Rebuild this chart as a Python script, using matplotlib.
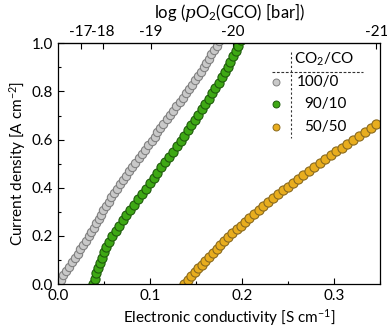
import matplotlib
matplotlib.use("Agg")
import matplotlib.pyplot as plt
from matplotlib.ticker import MultipleLocator

plt.rcParams['font.family'] = ['Lato', 'DejaVu Sans']
plt.rcParams['mathtext.fontset'] = 'custom'
plt.rcParams['mathtext.rm'] = 'Lato'
plt.rcParams['mathtext.it'] = 'DejaVu Serif:italic'

# ---- data ----
J_gray = [0.0, 0.018, 0.036, 0.054, 0.072, 0.090, 0.108, 0.126, 0.144, 0.162,
          0.180, 0.198, 0.216, 0.234, 0.252, 0.270, 0.288, 0.306, 0.324, 0.342,
          0.360, 0.378, 0.396, 0.414, 0.432, 0.450, 0.468, 0.486, 0.504, 0.522,
          0.540, 0.558, 0.576, 0.594, 0.612, 0.630, 0.648, 0.666, 0.684, 0.702,
          0.720, 0.738, 0.756, 0.774, 0.792, 0.810, 0.828, 0.846, 0.864, 0.882,
          0.900, 0.918, 0.936, 0.954, 0.972, 0.990, 1.008]
s_gray = [0.0, 0.0028, 0.0056, 0.0090, 0.0123, 0.0155, 0.0185, 0.0214, 0.0243, 0.0273,
          0.0302, 0.0332, 0.0361, 0.0389, 0.0418, 0.0442, 0.0466, 0.0490, 0.0519, 0.0549,
          0.0579, 0.0610, 0.0640, 0.0672, 0.0705, 0.0739, 0.0772, 0.0805, 0.0839, 0.0875,
          0.0911, 0.0946, 0.0982, 0.1018, 0.1049, 0.1080, 0.1111, 0.1145, 0.1180, 0.1216,
          0.1251, 0.1287, 0.1322, 0.1358, 0.1392, 0.1425, 0.1458, 0.1492, 0.1525, 0.1556,
          0.1584, 0.1612, 0.1640, 0.1668, 0.1696, 0.1724, 0.1752]

J_green = [0.0, 0.022, 0.044, 0.066, 0.088, 0.110, 0.132, 0.154, 0.176, 0.198,
           0.220, 0.242, 0.264, 0.286, 0.308, 0.330, 0.352, 0.374, 0.396, 0.418,
           0.440, 0.462, 0.484, 0.506, 0.528, 0.550, 0.572, 0.594, 0.616, 0.638,
           0.660, 0.682, 0.704, 0.726, 0.748, 0.770, 0.792, 0.814, 0.836, 0.858,
           0.880, 0.902, 0.924, 0.946, 0.968, 0.990, 1.012]
s_green = [0.0380, 0.0398, 0.0415, 0.0433, 0.0454, 0.0477, 0.0500, 0.0527, 0.0557, 0.0590,
           0.0625, 0.0662, 0.0701, 0.0741, 0.0782, 0.0824, 0.0867, 0.0910, 0.0953, 0.0996,
           0.1038, 0.1080, 0.1122, 0.1164, 0.1205, 0.1245, 0.1290, 0.1332, 0.1373, 0.1412,
           0.1450, 0.1487, 0.1525, 0.1562, 0.1599, 0.1637, 0.1673, 0.1709, 0.1746, 0.1782,
           0.1816, 0.1845, 0.1874, 0.1903, 0.1931, 0.1958, 0.1985]

J_yellow = [0.0, 0.0162, 0.0324, 0.0486, 0.0648, 0.0810, 0.0972, 0.1134, 0.1296, 0.1458,
            0.1620, 0.1782, 0.1944, 0.2106, 0.2268, 0.2430, 0.2592, 0.2754, 0.2916, 0.3078,
            0.3240, 0.3402, 0.3564, 0.3726, 0.3888, 0.4050, 0.4212, 0.4374, 0.4536, 0.4698,
            0.4860, 0.5022, 0.5184, 0.5346, 0.5508, 0.5670, 0.5832, 0.5994, 0.6156, 0.6318,
            0.6480, 0.6642]
s_yellow = [0.1370, 0.1409, 0.1448, 0.1487, 0.1526, 0.1564, 0.1603, 0.1644, 0.1684, 0.1725,
            0.1766, 0.1808, 0.1850, 0.1895, 0.1940, 0.1985, 0.2033, 0.2081, 0.2130, 0.2180,
            0.2232, 0.2284, 0.2336, 0.2390, 0.2443, 0.2498, 0.2554, 0.2611, 0.2668, 0.2726,
            0.2785, 0.2843, 0.2903, 0.2963, 0.3023, 0.3085, 0.3146, 0.3208, 0.3271, 0.3334,
            0.3397, 0.3458]

legend_labels = ["100/0", "90/10", "50/50"]
legend_header = "CO$_2$/CO"
top_tick_labels = ["-17", "-18", "-19", "-20", "-21"]
top_tick_pos = [0.025, 0.049, 0.101, 0.190, 0.346]

face = ["#c9c9c9", "#3ea814", "#e8ad1e"]
edge = ["#808080", "#1f5c0c", "#8a6a1e"]

FS = 11

fig = plt.figure(figsize=(3.87, 3.34), dpi=100)
ax = fig.add_axes([0.1499, 0.1497, 0.8321, 0.7207])

series = [(s_gray, J_gray), (s_green, J_green), (s_yellow, J_yellow)]
ms = [6.0, 6.6, 6.6]
for (x, y), fc, ec, m in zip(series, face, edge, ms):
    ax.plot(x, y, linestyle='none', marker='o', ms=m, mfc=fc, mec=ec, mew=0.8)

ax.set_xlim(0, 0.35)
ax.set_ylim(0, 1.0)
ax.xaxis.set_major_locator(MultipleLocator(0.1))
ax.xaxis.set_minor_locator(MultipleLocator(0.05))
ax.yaxis.set_major_locator(MultipleLocator(0.2))
ax.yaxis.set_minor_locator(MultipleLocator(0.1))
ax.set_xticks([0.0, 0.1, 0.2, 0.3])
ax.set_xticklabels(["0.0", "0.1", "0.2", "0.3"])
ax.tick_params(which='both', direction='in', labelsize=FS, top=False, right=False)
ax.tick_params(which='major', length=4, width=0.8)
ax.tick_params(which='minor', length=2.5, width=0.8)
for sp in ax.spines.values():
    sp.set_linewidth(0.9)
ax.set_xlabel("Electronic conductivity [S cm$^{-1}$]", fontsize=FS, labelpad=3)
ax.xaxis.label.set_x(0.531)
ax.set_ylabel("Current density [A cm$^{-2}$]", fontsize=FS, labelpad=3)

top = ax.secondary_xaxis('top')
top.set_xticks(top_tick_pos)
top.set_xticklabels(top_tick_labels)
top.tick_params(direction='in', length=4, width=0.8, labelsize=FS, pad=3)
top.set_xlabel("log ($\\mathit{p}$O$_2$(GCO) [bar])", fontsize=12, labelpad=5)
top.xaxis.label.set_x(0.534)

# legend drawn as a small table
T = ax.transAxes
def ax_xy(px, py):
    return ((px - 58) / 322.0, (284 - py) / 240.7)

x0, y0 = ax_xy(290.7, 51.7)
x1, y1 = ax_xy(290.7, 138)
ax.plot([x0, x1], [y0, y1], transform=T, ls=(0, (2, 2)), color='#333333', lw=0.8, clip_on=False)
hx0, hy = ax_xy(272, 71.7)
hx1, _ = ax_xy(363, 71.7)
ax.plot([hx0, hx1], [hy, hy], transform=T, ls=(0, (2.5, 1.5)), color='#333333', lw=0.8, clip_on=False)
tx, ty = ax_xy(324, 59)
ax.text(tx, ty, legend_header, transform=T, ha='center', va='center', fontsize=FS)
label_px = [297, 304, 304]
row_py = [81.7, 104.3, 126.7]
for lab, lx, ry, fc, ec in zip(legend_labels, label_px, row_py, face, edge):
    mx, my = ax_xy(276, ry)
    ax.plot([mx], [my], transform=T, marker='o', ms=5, mfc=fc, mec=ec, mew=0.7, ls='none')
    lxa, lya = ax_xy(lx, ry)
    ax.text(lxa, lya, lab, transform=T, ha='left', va='center', fontsize=FS)

fig.savefig("out.png", dpi=100)
